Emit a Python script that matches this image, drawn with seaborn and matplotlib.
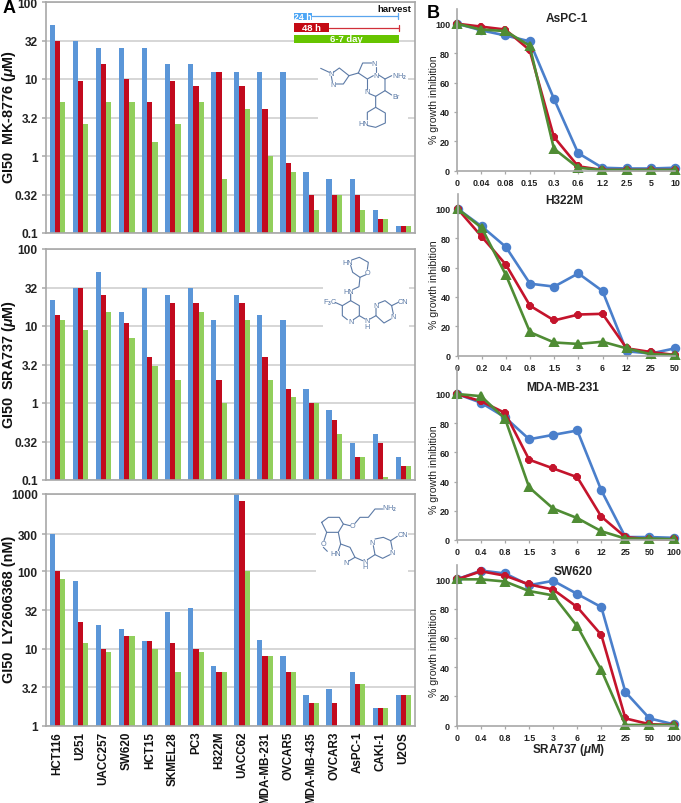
import numpy as np
import pandas as pd
import matplotlib
matplotlib.use("Agg")
import matplotlib.pyplot as plt
from matplotlib.lines import Line2D
from matplotlib.patches import Rectangle
import seaborn as sns

W, H = 681, 804

cell_lines = ["HCT116", "U251", "UACC257", "SW620", "HCT15", "SKMEL28", "PC3", "H322M",
              "UACC62", "MDA-MB-231", "OVCAR5", "MDA-MB-435", "OVCAR3", "AsPC-1", "CAKI-1", "U2OS"]
times = ["24 h", "48 h", "6-7 day"]

mk_24 = [51, 31, 25, 25, 25, 15.5, 15.5, 12.5, 12.5, 12.5, 12.5, 0.62, 0.5, 0.5, 0.2, 0.125]
mk_48 = [31, 9.3, 15.5, 10, 5.1, 9.3, 8.1, 12.5, 8.1, 4.1, 0.81, 0.31, 0.31, 0.31, 0.153, 0.125]
mk_72 = [5.1, 2.6, 5.1, 5.1, 1.5, 2.6, 5.1, 0.5, 4.1, 1.0, 0.62, 0.2, 0.31, 0.2, 0.153, 0.125]

sra_24 = [22, 31, 50, 15, 31, 25, 31, 12, 25, 14, 12, 1.5, 0.8, 0.3, 0.4, 0.2]
sra_48 = [14, 31, 25, 11, 4, 20, 20, 2, 20, 4, 1.5, 1, 0.6, 0.2, 0.3, 0.15]
sra_72 = [12, 9, 15, 7, 3, 2, 15, 1, 12, 2, 1.2, 1, 0.4, 0.2, 0.11, 0.15]

ly_24 = [300, 74, 20, 17.7, 12.4, 30, 34, 5.9, 1000, 12.9, 8, 2.5, 3, 5, 1.7, 2.5]
ly_48 = [100, 22, 10, 14.6, 12.4, 12, 10, 5, 800, 8, 5, 2, 2, 3.5, 1.7, 2.5]
ly_72 = [80, 12, 9, 14.6, 10, 5, 9, 5, 100, 8, 5, 2, np.nan, 3.5, 1.7, 2.5]

ticks_um = [0.1, 0.316, 1, 3.16, 10, 31.6, 100]
ticklabels_um = ["0.1", "0.32", "1", "3.2", "10", "32", "100"]
ticks_nm = [1, 3.16, 10, 31.6, 100, 300, 1000]
ticklabels_nm = ["1", "3.2", "10", "32", "100", "300", "1000"]

bar_colors = ["#5B96D8", "#C20A1E", "#92CF5C"]
line_colors = ["#4A7FCB", "#C4142C", "#4F8C34"]

aspc_doses = ["0", "0.04", "0.08", "0.15", "0.3", "0.6", "1.2", "2.5", "5", "10"]
aspc_24 = [100, 95.5, 92, 88, 49, 12, 2, 1.5, 1.5, 2]
aspc_48 = [100, 98, 96, 82, 23, 3, 0.5, 0.5, 0.5, 0.5]
aspc_72 = [100, 96, 95, 85, 15, 2, 0.5, 0.5, 0.5, 0.5]

h322_doses = ["0", "0.2", "0.4", "0.8", "1.5", "3", "6", "12", "25", "50"]
h322_24 = [100, 88, 74, 49, 47, 56, 44, 3, 1.5, 5]
h322_48 = [100, 81, 62, 34, 24, 28, 28.5, 5, 2.5, 0.5]
h322_72 = [100, 87, 55, 16, 9, 8, 9.5, 5, 1, 0.5]

mda_doses = ["0", "0.4", "0.8", "1.5", "3", "6", "12", "25", "50", "100"]
mda_24 = [100, 94, 84, 69, 72, 75, 34, 2, 2, 1.5]
mda_48 = [100, 95, 87, 55, 49, 43, 16, 2, 0.5, 0.5]
mda_72 = [100, 98.5, 83, 36, 21.5, 15, 6, 1, 1, 0.5]

sw_doses = ["0", "0.4", "0.8", "1.5", "3", "6", "12", "25", "50", "100"]
sw_24 = [100, 106, 104, 96, 99, 90, 81, 23, 5, 1]
sw_48 = [100, 105.5, 102.5, 96.5, 93, 81, 62, 5, 1, 0.5]
sw_72 = [100, 100, 98.5, 92, 89, 68, 38, 0.5, 0.5, 0.5]

sns.set_theme(style="white")
plt.rcParams["font.family"] = ["Liberation Sans", "DejaVu Sans"]
plt.rcParams["mathtext.fontset"] = "custom"
plt.rcParams["mathtext.it"] = "Liberation Sans:italic:bold"
plt.rcParams["mathtext.rm"] = "Liberation Sans:bold"

fig = plt.figure(figsize=(W / 100, H / 100), dpi=100, facecolor="white")
FRAME = "#A8A8A8"
MOL = "#5C7AA6"


def fx(x):
    return x / W


def fy(y):
    return 1 - y / H


def add_ax(l, t, r, b):
    return fig.add_axes([fx(l), fy(b), (r - l) / W, (b - t) / H])


def ftext(x, y, s, **kw):
    kw.setdefault("ha", "center")
    kw.setdefault("va", "center")
    fig.text(fx(x), fy(y), s, **kw)


def bars(pos, vals, ticks, labels, ylabel, show_x):
    ax = add_ax(*pos)
    df = pd.DataFrame({
        "line": cell_lines * 3,
        "time": [t for t in times for _ in cell_lines],
        "gi50": [v for series in vals for v in series],
    })
    ax.set_axisbelow(True)
    sns.barplot(data=df, x="line", y="gi50", hue="time", order=cell_lines, hue_order=times,
                palette=bar_colors, width=0.68, gap=0, saturation=1, legend=False,
                errorbar=None, ax=ax, linewidth=0)
    ax.set_yscale("log")
    ax.set_xlim(-0.5, 15.5)
    ax.set_ylim(ticks[0], ticks[-1])
    ax.set_yticks(ticks)
    ax.set_yticklabels(labels, fontsize=8.6, fontweight="bold", color="#222222")
    ax.minorticks_off()
    ax.yaxis.grid(True, color="#CFCFCF", lw=1.2)
    ax.xaxis.grid(False)
    ax.tick_params(axis="y", left=True, length=3, width=1.1, color=FRAME, pad=3)
    ax.tick_params(axis="x", bottom=False, length=0)
    ax.set_xlabel("")
    ax.set_ylabel("")
    if show_x:
        ax.set_xticks(range(len(cell_lines)))
        ax.set_xticklabels(cell_lines, rotation=90, fontsize=8.4, color="#111111", fontweight="bold")
        ax.tick_params(axis="x", pad=3.5)
    else:
        ax.set_xticks([])
    for s in ax.spines.values():
        s.set_color(FRAME)
        s.set_linewidth(1.2)
    ftext(9.5, (pos[1] + pos[3]) / 2 - 1.5, ylabel, rotation=90, fontsize=10.4, fontweight="bold", color="#111111")
    return ax


bars((46, 3, 415, 234), [mk_24, mk_48, mk_72], ticks_um, ticklabels_um,
     r"GI50  MK-8776 ($\mu$M)", False)
bars((46, 250, 415, 481), [sra_24, sra_48, sra_72], ticks_um, ticklabels_um,
     r"GI50  SRA737 ($\mu$M)", False)
bars((46, 495, 415, 727), [ly_24, ly_48, ly_72], ticks_nm, ticklabels_nm,
     "GI50  LY2606368 (nM)", True)


def curves(pos, ymax, title, title_xy, ylab_y, doses, vals):
    ax = add_ax(*pos)
    ax.patch.set_alpha(0)
    df = pd.DataFrame({
        "dose": doses * 3,
        "time": [t for t in times for _ in doses],
        "pct": [v for series in vals for v in series],
    })
    sns.pointplot(data=df, x="dose", y="pct", hue="time", order=doses, hue_order=times,
                  palette=line_colors, markers=["o", "8", "^"], linestyles="-",
                  markersize=5.4, linewidth=1.9, errorbar=None, legend=False, ax=ax)
    for artist in ax.lines + ax.collections:
        artist.set_clip_on(False)
    ax.set_xlim(0, len(doses) - 1)
    ax.set_ylim(0, ymax)
    ax.set_yticks([0, 20, 40, 60, 80, 100])
    ax.set_yticklabels(["0", "20", "40", "60", "80", "100"], fontsize=6.5, fontweight="bold", color="#222222")
    ax.set_xticks(range(len(doses)))
    ax.set_xticklabels(doses, fontsize=6.4, fontweight="bold", color="#222222")
    ax.tick_params(axis="both", left=True, bottom=True, length=2, width=0.9, color=FRAME, pad=3)
    ax.set_xlabel("")
    ax.set_ylabel("")
    for side in ("top", "right"):
        ax.spines[side].set_visible(False)
    for side in ("left", "bottom"):
        ax.spines[side].set_color(FRAME)
        ax.spines[side].set_linewidth(1.2)
    ftext(434, ylab_y, "% growth inhibition", rotation=90, fontsize=7.6, color="#222222")
    ftext(title_xy[0], title_xy[1], title, fontsize=8.6, fontweight="bold", color="#222222")
    return ax


curves((457, 10, 675, 171.7), 110, "AsPC-1", (567, 19), 100, aspc_doses, [aspc_24, aspc_48, aspc_72])
curves((457.5, 195, 675, 356.7), 110, "H322M", (564, 201), 285, h322_doses, [h322_24, h322_48, h322_72])
curves((457, 369, 673.5, 541), 117.8, "MDA-MB-231", (563, 388), 470, mda_doses, [mda_24, mda_48, mda_72])
curves((457, 565.7, 673.5, 726.7), 110, "SW620", (573, 572), 653, sw_doses, [sw_24, sw_48, sw_72])
ftext(569, 750.5, r"SRA737 ($\mu$M)", fontsize=8.4, fontweight="bold", color="#222222")

ftext(9, 8.5, "A", fontsize=13, fontweight="bold", color="black")
ftext(433, 13, "B", fontsize=13, fontweight="bold", color="black")


def frect(x0, y0, x1, y1, color, z=5):
    fig.add_artist(Rectangle((fx(x0), fy(y1)), (x1 - x0) / W, (y1 - y0) / H,
                             transform=fig.transFigure, fc=color, ec="none", zorder=z))


def fline(pts, color=MOL, lw=0.8, z=6):
    xs, ys = zip(*pts)
    fig.add_artist(Line2D([fx(x) for x in xs], [fy(y) for y in ys], color=color, lw=lw, zorder=z,
                          transform=fig.transFigure, solid_capstyle="round"))


# white patches behind the structures that interrupt the gridlines
frect(318, 72, 408, 125, "white")
frect(323, 282, 409, 335, "white")
frect(316, 528, 408, 580, "white")

# dosing schedule
frect(294, 13.5, 312, 21, "#4DA6F5")
frect(294, 24, 329, 33, "#C40A14")
frect(294, 35.7, 399, 44.3, "#66C400")
fline([(312, 16.7), (398, 16.7)], "#5AA5EE", 0.9)
fline([(398, 13.5), (398, 20)], "#5AA5EE", 0.9)
fline([(329, 28.7), (399, 28.7)], "#D0303A", 0.9)
fline([(399, 25.5), (399, 32)], "#D0303A", 0.9)
ftext(303, 17.3, "24 h", fontsize=6.4, fontweight="bold", color="white", zorder=7)
ftext(311, 28.7, "48 h", fontsize=6.8, fontweight="bold", color="white", zorder=7)
ftext(346, 40, "6-7 day", fontsize=6.8, fontweight="bold", color="white", zorder=7)
ftext(411, 10, "harvest", ha="right", fontsize=6.8, color="#111111", zorder=7, fontweight="bold")


def molecule(ox, oy, paths, labels):
    for path in paths:
        fline([(ox + a / 3, oy + b / 3) for a, b in path])
    for a, b, s in labels:
        ftext(ox + a / 3, oy + b / 3, s, fontsize=5.2, color=MOL, zorder=7)


molecule(280, 0, [
    [(122, 208), (148, 220)],
    [(160, 220), (178, 207), (207, 230), (190, 255), (168, 255)],
    [(154, 232), (157, 248)],
    [(207, 230), (235, 222)],
    [(235, 222), (248, 192), (275, 192)],
    [(287, 204), (287, 220)],
    [(235, 222), (262, 240), (280, 230)],
    [(262, 240), (262, 270)],
    [(268, 284), (287, 292), (315, 275), (315, 240), (296, 228)],
    [(315, 240), (335, 230)],
    [(315, 275), (335, 288)],
    [(287, 292), (287, 325), (262, 340), (262, 362)],
    [(264, 380), (287, 385), (316, 372), (316, 342), (287, 325)],
], [(154, 224, "N"), (158, 256, "N"), (283, 195, "N"), (288, 228, "N"), (261, 278, "N"),
    (358, 230, "NH$_2$"), (348, 293, "Br"), (252, 373, "HN")])

molecule(310, 245, [
    [(125, 48), (148, 40), (175, 55), (172, 76)],
    [(168, 92), (150, 100), (128, 85), (122, 64)],
    [(150, 100), (147, 128), (130, 136)],
    [(122, 150), (122, 170), (148, 185), (148, 215), (130, 227)],
    [(112, 227), (97, 215), (97, 185), (122, 170)],
    [(75, 175), (97, 185)],
    [(148, 215), (165, 225)],
    [(180, 225), (198, 215), (198, 193)],
    [(205, 178), (225, 170), (245, 185), (250, 210)],
    [(243, 225), (222, 237), (198, 215)],
    [(245, 185), (265, 175)],
], [(113, 55, "HN"), (172, 85, "O"), (115, 142, "HN"), (122, 232, "N"), (60, 173, "F$_3$C"),
    (172, 230, "N"), (172, 247, "H"), (197, 185, "N"), (250, 218, "N"), (280, 172, "CN")])

molecule(300, 490, [
    [(65, 100), (85, 85), (118, 85), (130, 105), (115, 130), (80, 130), (65, 100)],
    [(130, 105), (150, 110)],
    [(165, 103), (180, 85), (205, 85), (225, 60), (248, 60)],
    [(80, 130), (72, 155)],
    [(70, 175), (82, 187)],
    [(115, 130), (122, 165), (150, 175), (165, 205), (146, 216)],
    [(122, 165), (115, 185)],
    [(165, 205), (188, 215)],
    [(202, 212), (225, 197), (220, 170)],
    [(225, 150), (250, 145), (272, 155), (277, 181)],
    [(270, 197), (248, 208), (225, 197)],
    [(272, 155), (292, 142)],
], [(268, 57, "NH$_2$"), (158, 110, "O"), (70, 165, "O"), (107, 195, "HN"), (138, 220, "N"),
    (195, 217, "N"), (195, 233, "H"), (217, 160, "N"), (277, 190, "N"), (308, 138, "CN")])

fig.savefig("out.png", dpi=100)
